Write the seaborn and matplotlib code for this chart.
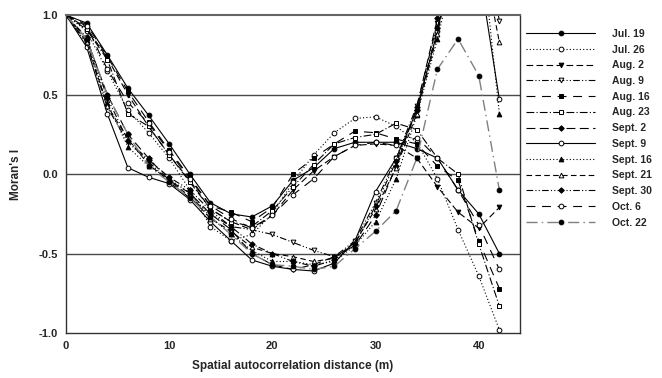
import matplotlib
matplotlib.use("Agg")
import matplotlib.pyplot as plt
import seaborn as sns
import pandas as pd
import numpy as np

sns.set_style("white")
plt.rcParams['font.family'] = ['Liberation Sans', 'DejaVu Sans']

distance = [0, 2, 4, 6, 8, 10, 12, 14, 16, 18, 20, 22, 24, 26, 28, 30, 32, 34, 36, 38, 40, 42]

jul19 = [1.0, 0.95, 0.75, 0.54, 0.37, 0.19, 0.0, -0.18, -0.25, -0.27, -0.2, -0.04, 0.04, 0.16, 0.2, 0.2, 0.2, 0.16, 0.1, -0.1, -0.25, -0.5]
jul26 = [1.0, 0.9, 0.65, 0.4, 0.26, 0.1, -0.1, -0.33, -0.42, -0.38, -0.25, -0.05, 0.12, 0.26, 0.35, 0.36, 0.3, 0.2, -0.03, -0.35, -0.64, -0.98]
aug2 = [1.0, 0.92, 0.73, 0.5, 0.3, 0.12, -0.04, -0.22, -0.3, -0.35, -0.26, -0.1, 0.02, 0.11, 0.18, 0.19, 0.18, 0.1, -0.08, -0.24, -0.34, -0.21]
aug9 = [1.0, 0.82, 0.42, 0.2, 0.08, -0.05, -0.15, -0.25, -0.33, -0.35, -0.38, -0.43, -0.48, -0.52, -0.42, -0.18, 0.1, 0.43, 0.95, 1.6, 1.8, 0.96]
aug16 = [1.0, 0.94, 0.74, 0.52, 0.33, 0.15, -0.02, -0.2, -0.24, -0.3, -0.21, 0.0, 0.1, 0.19, 0.27, 0.26, 0.22, 0.19, 0.05, -0.04, -0.42, -0.72]
aug23 = [1.0, 0.91, 0.72, 0.38, 0.3, 0.12, -0.05, -0.22, -0.3, -0.33, -0.23, -0.08, 0.06, 0.19, 0.23, 0.25, 0.32, 0.28, 0.1, 0.0, -0.44, -0.83]
sept2 = [1.0, 0.85, 0.5, 0.25, 0.1, -0.04, -0.12, -0.25, -0.35, -0.5, -0.57, -0.6, -0.57, -0.52, -0.45, -0.26, 0.05, 0.42, 0.98, 1.6, 1.9, 1.5]
sept9 = [1.0, 0.8, 0.38, 0.04, -0.02, -0.06, -0.16, -0.3, -0.42, -0.54, -0.58, -0.6, -0.61, -0.56, -0.42, -0.11, 0.1, 0.4, 0.9, 1.5, 1.3, 0.47]
sept16 = [1.0, 0.84, 0.45, 0.17, 0.05, -0.03, -0.12, -0.27, -0.38, -0.48, -0.55, -0.55, -0.57, -0.55, -0.45, -0.3, -0.03, 0.37, 0.85, 1.4, 1.6, 0.38]
sept21 = [1.0, 0.83, 0.43, 0.22, 0.06, -0.04, -0.14, -0.28, -0.36, -0.46, -0.5, -0.52, -0.55, -0.53, -0.43, -0.22, 0.04, 0.38, 0.88, 1.5, 1.5, 0.83]
sept30 = [1.0, 0.86, 0.48, 0.21, 0.09, -0.02, -0.1, -0.23, -0.33, -0.44, -0.5, -0.55, -0.58, -0.54, -0.44, -0.2, 0.08, 0.4, 0.92, 1.5, 1.7, 1.3]
oct6 = [1.0, 0.93, 0.66, 0.45, 0.32, 0.14, -0.03, -0.2, -0.28, -0.34, -0.26, -0.13, -0.03, 0.11, 0.18, 0.2, 0.18, 0.23, 0.1, -0.1, -0.32, -0.6]
oct22 = [1.0, 0.85, 0.5, 0.25, 0.05, -0.05, -0.15, -0.27, -0.38, -0.5, -0.57, -0.58, -0.6, -0.58, -0.47, -0.36, -0.23, 0.1, 0.66, 0.85, 0.62, -0.1]

labels = ["Jul. 19", "Jul. 26", "Aug. 2", "Aug. 9", "Aug. 16", "Aug. 23", "Sept. 2",
          "Sept. 9", "Sept. 16", "Sept. 21", "Sept. 30", "Oct. 6", "Oct. 22"]
series = [jul19, jul26, aug2, aug9, aug16, aug23, sept2, sept9, sept16, sept21, sept30, oct6, oct22]

y_ticks = [-1.0, -0.5, 0.0, 0.5, 1.0]
x_ticks = [0, 10, 20, 30, 40]

# style per series: (linestyle, marker, filled, color, linewidth)
styles = [
    ('-', 'o', True, 'black', 0.8),
    ((0, (1, 2)), 'o', False, 'black', 0.8),
    ((0, (6, 3)), 'v', True, 'black', 0.8),
    ((0, (6, 2, 1, 2, 1, 2)), 'v', False, 'black', 0.8),
    ((0, (8, 6)), 's', True, 'black', 0.8),
    ((0, (7, 2, 1, 2)), 's', False, 'black', 0.8),
    ((0, (8, 4)), 'D', True, 'black', 0.8),
    ('-', 'o', False, 'black', 0.8),
    ((0, (1, 2)), '^', True, 'black', 0.8),
    ((0, (5, 3)), '^', False, 'black', 0.8),
    ((0, (6, 2, 1, 2, 1, 2)), 'D', True, 'black', 0.8),
    ((0, (8, 6)), 'o', False, 'black', 0.8),
    ((0, (8, 3, 1, 3)), 'o', True, '#808080', 1.0),
]

rows = []
for lab, vals in zip(labels, series):
    for d, v in zip(distance, vals):
        rows.append({"date": lab, "distance": d, "moran": v})
df = pd.DataFrame(rows)

fig = plt.figure(figsize=(6.62, 3.78), dpi=100)
ax = fig.add_axes([0.0997, 0.119, 0.6858, 0.841])

for y in [0.5, 0.0, -0.5]:
    ax.axhline(y, color='#4a4a4a', lw=1.0, zorder=0)

for lab, (ls, mk, filled, col, lw) in zip(labels, styles):
    sub = df[df["date"] == lab]
    sns.lineplot(data=sub, x="distance", y="moran", ax=ax, color=col, linestyle=ls,
                 linewidth=lw, marker=mk, markersize=3.4 if mk not in ('D',) else 2.8,
                 markerfacecolor=('black' if filled else 'white'),
                 markeredgecolor='black', markeredgewidth=0.7,
                 errorbar=None, sort=True, label=lab)

ax.set_xlim(0, 44)
ax.set_ylim(-1.0, 1.0)
ax.set_xticks(x_ticks)
ax.set_xticklabels([str(t) for t in x_ticks], fontweight='bold', fontsize=8)
ax.set_yticks(y_ticks)
ax.set_yticklabels([f"{t:.1f}" for t in y_ticks], fontweight='bold', fontsize=8)
ax.tick_params(axis='both', direction='out', length=3, width=0.8, color='black', pad=3)
for s in ax.spines.values():
    s.set_color('#333333')
    s.set_linewidth(1.0)
ax.spines['top'].set_color('#666666')
ax.spines['top'].set_linewidth(1.5)

ax.set_xlabel("Spatial autocorrelation distance (m)", fontweight='bold', fontsize=8.5, labelpad=6)
ax.set_ylabel("Moran's I", fontweight='bold', fontsize=8.5, labelpad=12)

leg = ax.legend(loc='upper left', bbox_to_anchor=(1.005, 0.97), frameon=False,
                prop={'weight': 'bold', 'size': 7.5}, handlelength=6.6, handletextpad=1.6,
                labelspacing=0.55, borderaxespad=0)

fig.savefig("out.png", dpi=100)
